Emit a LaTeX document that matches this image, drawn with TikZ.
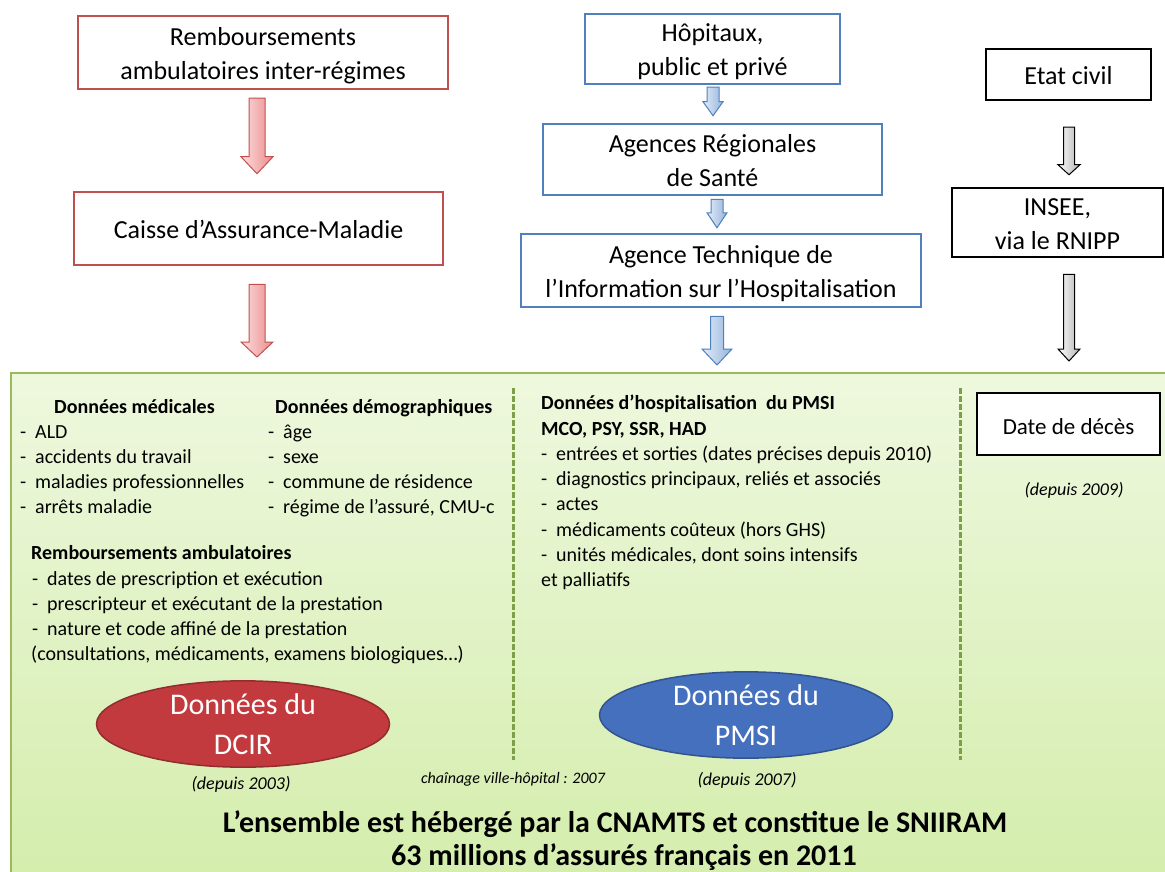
\documentclass[tikz,border=0pt]{standalone}
\usepackage{fontspec}
\setmainfont{Carlito}
\usetikzlibrary{positioning, calc, shapes.geometric}

\definecolor{boxred}{RGB}{192,80,77}
\definecolor{boxblue}{RGB}{79,129,189}
\definecolor{panelline}{RGB}{155,187,89}
\definecolor{dashgreen}{RGB}{125,160,70}
\definecolor{ellred}{RGB}{194,58,62}
\definecolor{ellblue}{RGB}{68,112,190}

\newcommand{\boxfont}{\fontsize{26}{34}\selectfont}
\newcommand{\listfont}{\fontsize{20}{25}\selectfont}
\newcommand{\bs}{\rule[-6.5pt]{0pt}{33pt}}
\newcommand{\dashitem}[1]{\makebox[15pt][l]{-}#1}
% block arrow: style, from, to, half shaft, half head, head length
\newcommand{\fatarrow}[6]{%
  \path[#1] let \p1=#2, \p2=#3 in
    (\x2-#4pt,\y1) -- (\x2+#4pt,\y1) -- (\x2+#4pt,\y2+#6pt) -- (\x2+#5pt,\y2+#6pt)
    -- (\x2,\y2) -- (\x2-#5pt,\y2+#6pt) -- (\x2-#4pt,\y2+#6pt) -- cycle;}

\tikzset{
  srcbox/.style   = {draw, line width=2.5pt, fill=white, align=center, inner sep=0pt, font=\boxfont},
  redbox/.style   = {srcbox, draw=boxred},
  bluebox/.style  = {srcbox, draw=boxblue},
  blackbox/.style = {srcbox, draw=black},
  redarrow/.style   = {draw=boxred, line width=1pt, left color={rgb,255:red,252;green,222;blue,222}, right color={rgb,255:red,236;green,140;blue,140}},
  bluearrow/.style  = {draw=boxblue, line width=1pt, left color={rgb,255:red,226;green,236;blue,248}, right color={rgb,255:red,150;green,180;blue,220}},
  grayarrow/.style  = {draw=black, line width=1pt, left color=white, right color=black!30},
  panel/.style    = {draw=panelline, line width=2.5pt, top color={rgb,255:red,238;green,248;blue,222}, bottom color={rgb,255:red,212;green,237;blue,172}},
  divider/.style  = {draw=dashgreen, line width=3pt, dash pattern=on 6pt off 2pt},
  item/.style     = {anchor=base west, inner sep=0pt, font=\listfont},
  head/.style     = {item, font=\listfont\bfseries},
  datapool/.style = {ellipse, line width=1.5pt, text=white, align=center, inner sep=0pt,
                     minimum width=293pt, minimum height=84pt, font=\fontsize{30}{40}\selectfont},
  since/.style    = {anchor=base, inner sep=0pt, font=\fontsize{18}{22}\selectfont\itshape},
  summary/.style  = {anchor=base, inner sep=0pt, font=\fontsize{30}{34}\selectfont\bfseries}
}

\begin{document}
\begin{tikzpicture}[x=1pt, y=-1pt]
  \useasboundingbox (0,0) rectangle (1165,872);
  \fill[white] (0,0) rectangle (1165,872);

  % green panel
  \path[panel] (11,373) rectangle (1180,885);
  \coordinate (dv1top) at (513,388);
  \coordinate (dv1bot) at (513,760);
  \coordinate (dv2top) at (960,388);
  \coordinate (dv2bot) at (960,760);
  \draw[divider] (dv1top) -- (dv1bot);
  \draw[divider] (dv2top) -- (dv2bot);

  % source boxes
  \node[redbox, minimum width=370pt, minimum height=73pt] (rb1) at (263,52.5) {\bs Remboursements\\ambulatoires inter-régimes\bs};
  \node[redbox, minimum width=369pt, minimum height=73pt] (rb2) at (258.5,228.5) {\bs Caisse d’Assurance-Maladie\bs};
  \node[bluebox, minimum width=255pt, minimum height=70pt] (hb1) at (712.5,49) {\bs Hôpitaux,\\public et privé\bs};
  \node[bluebox, minimum width=339pt, minimum height=71pt] (hb2) at (712.5,159.5) {\bs Agences Régionales\\de Santé\bs};
  \node[bluebox, minimum width=400pt, minimum height=73pt] (hb3) at (721,270.5) {\bs Agence Technique de\\l’Information sur l’Hospitalisation\bs};
  \node[blackbox, minimum width=165pt, minimum height=51pt] (kb1) at (1068.5,74.5) {\bs Etat civil\bs};
  \node[blackbox, minimum width=211pt, minimum height=69pt] (kb2) at (1057.5,222.5) {\bs INSEE,\\via le RNIPP\bs};

  % arrow tips into the panel
  \coordinate (redin) at (257,357);
  \coordinate (bluein) at (717,365);
  \coordinate (grayin) at (1069,361);

  \fatarrow{redarrow}{($(rb1.south)+(0,8)$)}{($(rb2.north)+(-1.5,-17)$)}{8}{16}{17}
  \fatarrow{redarrow}{($(rb2.south)+(0,18)$)}{(redin)}{8}{16}{15}
  \fatarrow{bluearrow}{($(hb1.south)+(0,2)$)}{($(hb2.north)+(0.5,-7)$)}{6}{10}{14}
  \fatarrow{bluearrow}{($(hb2.south)+(0,3)$)}{($(hb3.north)+(-4,-5)$)}{6}{10}{15}
  \fatarrow{bluearrow}{($(hb3.south)+(0,8)$)}{(bluein)}{6.5}{15}{16}
  \fatarrow{grayarrow}{($(kb1.south)+(0,26)$)}{($(kb2.north)+(11.5,-12)$)}{5.5}{11}{10}
  \fatarrow{grayarrow}{($(kb2.south)+(0,16)$)}{(grayin)}{5.5}{11}{12}

  % DCIR column
  \node[head] (medhead) at (54,413) {Données médicales};
  \foreach \t [count=\i from 0] in {ALD, accidents du travail, maladies professionnelles, arrêts maladie}
    \node[item] (med\i) at (20,{438+25*\i}) {\dashitem{\t}};
  \node[head] (demhead) at (275,413) {Données démographiques};
  \foreach \t [count=\i from 0] in {âge, sexe, commune de résidence, {régime de l’assuré, CMU-c}}
    \node[item] (dem\i) at (268,{438+25*\i}) {\dashitem{\t}};
  \node[head] (remhead) at (31,559) {Remboursements ambulatoires};
  \foreach \t [count=\i from 0] in {dates de prescription et exécution, prescripteur et exécutant de la prestation, nature et code affiné de la prestation}
    \node[item] (rem\i) at (32,{585+25*\i}) {\dashitem{\t}};
  \node[item] (remnote) at (31,660) {(consultations, médicaments, examens biologiques…)};

  % PMSI column
  \node[head] (hosphead) at (541,409) {Données d’hospitalisation~ du PMSI};
  \node[head] (hospfields) at (541,435) {MCO, PSY, SSR, HAD};
  \foreach \t [count=\i from 0] in {entrées et sorties (dates précises depuis 2010), {diagnostics principaux, reliés et associés}, actes, médicaments coûteux (hors GHS), {unités médicales, dont soins intensifs}}
    \node[item] (hosp\i) at (541,{460.5+25.2*\i}) {\dashitem{\t}};
  \node[item] (hospend) at (541,586) {et palliatifs};

  % death column
  \node[blackbox, minimum width=183pt, minimum height=62pt, font=\fontsize{23}{28}\selectfont] (death) at (1068.5,424) {\bs Date de décès\bs};
  \node[since] (deathsince) at (1074,495) {(depuis 2009)};

  % data pools
  \node[datapool, draw=ellred!75!black, fill=ellred] (dcir) at (243,724) {Données du\\DCIR};
  \node[datapool, draw=ellblue!75!black, fill=ellblue] (pmsi) at (746,715) {Données du\\PMSI};
  \node[since] (dcirsince) at (241,789) {(depuis 2003)};
  \node[since, font=\fontsize{16}{20}\selectfont\itshape] (link) at (513,783) {chaînage ville-hôpital : 2007};
  \node[since] (pmsisince) at (747,785) {(depuis 2007)};

  % summary
  \node[summary] (sum1) at (615,832) {L’ensemble est hébergé par la CNAMTS et constitue le SNIIRAM};
  \node[summary] (sum2) at (624,865) {63 millions d’assurés français en 2011};
\end{tikzpicture}
\end{document}
